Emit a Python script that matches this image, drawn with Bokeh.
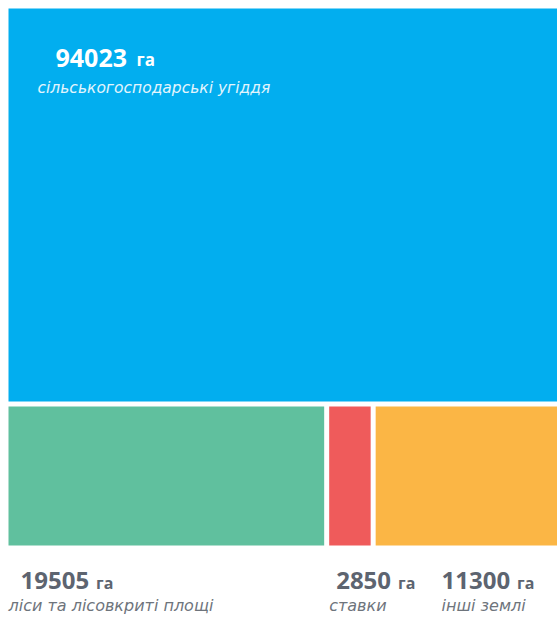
from bokeh.plotting import figure
from bokeh.models import Range1d, ColumnDataSource
from bokeh.core.properties import value
from bokeh.embed import file_html
from bokeh.resources import INLINE

# ---- data ----
categories = ["сільськогосподарські угіддя", "ліси та лісовкриті площі", "ставки", "інші землі"]
values = [94023, 19505, 2850, 11300]
unit = "га"
colors = ["#02AEEF", "#60C09E", "#EF5B5B", "#FBB645"]

# ---- layout (treemap computed from values) ----
FW, FH = 557, 619        # figure size in px
OX, OY = 8, 8            # treemap origin
W, H = 549, 537          # treemap extent
GAP = 5.0
total = float(sum(values))

x0s, x1s, y0s, y1s = [], [], [], []
blue_h = H * values[0] / total
x0s.append(OX); x1s.append(OX + W); y0s.append(OY); y1s.append(OY + blue_h - GAP / 2)
rest_total = float(sum(values[1:]))
cx = 0.0
for i, v in enumerate(values[1:]):
    w = W * v / rest_total
    left = OX + cx + (GAP / 2 if i > 0 else 0.0)
    right = OX + cx + w - (GAP / 2 if i < len(values) - 2 else 0.0)
    x0s.append(left); x1s.append(right)
    y0s.append(OY + blue_h + GAP / 2); y1s.append(OY + H)
    cx += w

src = ColumnDataSource(dict(left=x0s, right=x1s, top=y0s, bottom=y1s, color=colors))

p = figure(width=FW, height=FH, x_range=Range1d(0, FW), y_range=Range1d(FH, 0),
           output_backend="svg", toolbar_location=None, min_border=0)
p.xaxis.visible = False
p.yaxis.visible = False
p.grid.grid_line_color = None
p.outline_line_color = None
p.background_fill_color = "white"

p.quad(left="left", right="right", top="top", bottom="bottom", fill_color="color",
       line_color=None, source=src)

num_font = value("Open Sans")
lab_font = value("DejaVu Sans")

def unit_offset(v, digit_w):
    return len(str(v)) * digit_w + 7

# top (blue) labels
p.text(x=[x0s[0] + 47], y=[y0s[0] + 49], text=[str(values[0])], text_font=num_font,
       text_font_style="bold", text_font_size="25px", text_color="white",
       text_baseline="middle", text_align="left")
p.text(x=[x0s[0] + 47], y=[y0s[0] + 51], text=[unit], x_offset=unit_offset(values[0], 14.4) + 2,
       text_font=num_font, text_font_style="bold", text_font_size="17px", text_color="white",
       text_baseline="middle", text_align="left")
p.text(x=[x0s[0] + 29], y=[y0s[0] + 79], text=[categories[0]], text_font=lab_font,
       text_font_style="italic", text_font_size="15.5px", text_color="#E3F5FD",
       text_baseline="middle", text_align="left")

# bottom labels
bottom_y = OY + H
for i in range(1, len(values)):
    if i == len(values) - 1:
        nx = x1s[i] - 116
        lx = nx
    elif i == 1:
        nx = x0s[i] + 12
        lx = x0s[i]
    else:
        nx = x0s[i] + 7
        lx = x0s[i]
    p.text(x=[nx], y=[bottom_y + 35], text=[str(values[i])], text_font=num_font,
           text_font_style="bold", text_font_size="24px", text_color="#5D6470",
           text_baseline="middle", text_align="left")
    p.text(x=[nx], y=[bottom_y + 37], text=[unit], x_offset=unit_offset(values[i], 13.7),
           text_font=num_font, text_font_style="bold", text_font_size="16px",
           text_color="#5D6470", text_baseline="middle", text_align="left")
    p.text(x=[lx], y=[bottom_y + 60], text=[categories[i]], text_font=lab_font,
           text_font_style="italic", text_font_size="16px", text_color="#6E747C",
           text_baseline="middle", text_align="left")

open("out.html", "w").write(file_html(p, INLINE))
